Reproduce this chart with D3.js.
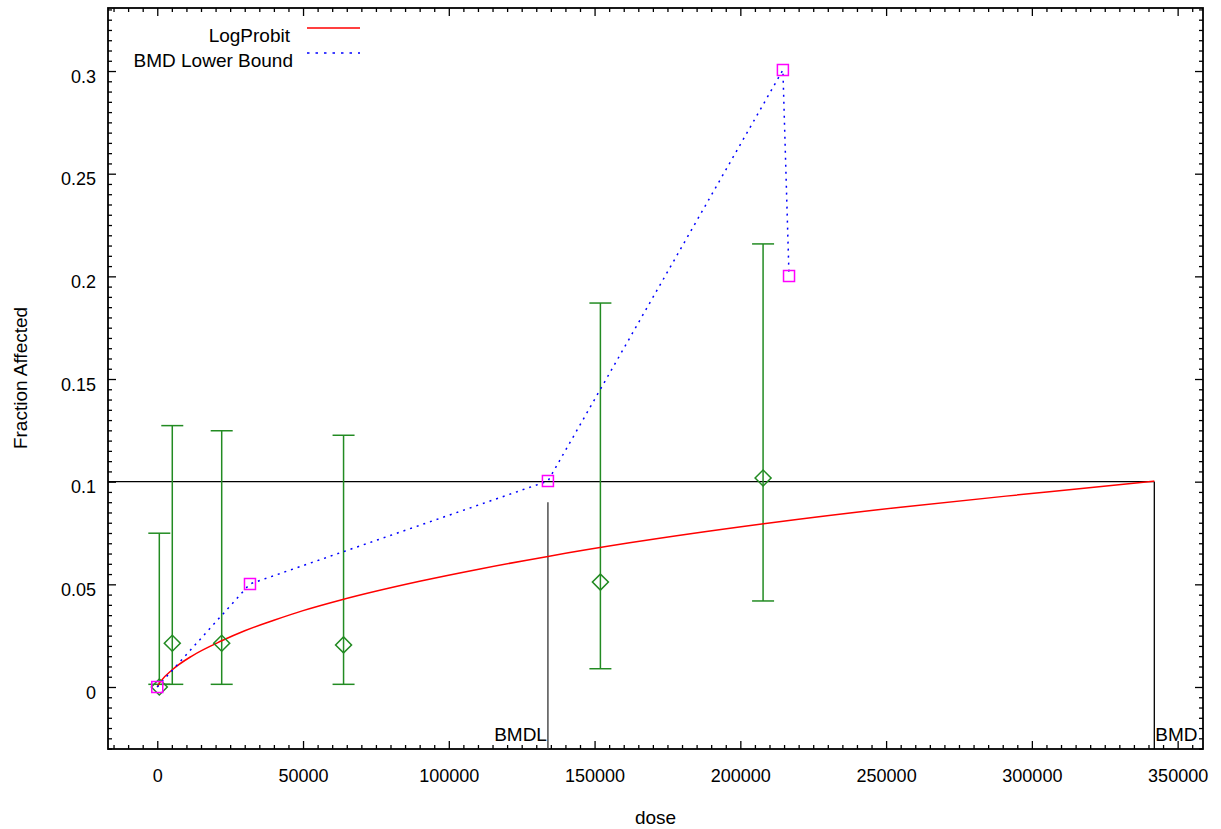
<!DOCTYPE html>
<html>
<head>
<meta charset="utf-8">
<script src="https://cdn.jsdelivr.net/npm/d3@7"></script>
<style>
  body { margin: 0; background: #fff; }
  text { font-family: "Liberation Sans", Arial, sans-serif; fill: #000; }
</style>
</head>
<body>
<div id="chart"></div>
<script>
// observed data (green diamonds + error bars)
const obsDose  = [700, 5150, 22100, 63900, 152000, 207800]
const obsFrac  = [0.0, 0.0213, 0.0213, 0.0205, 0.0511, 0.1018]
const obsLow   = [0.0013, 0.0013, 0.0013, 0.0013, 0.0089, 0.0419]
const obsHigh  = [0.0749, 0.1273, 0.1248, 0.1226, 0.187, 0.2158]

// LogProbit fitted curve
const fitDose = [0, 500, 1500, 5150, 12000, 22100, 30000, 40000, 50000, 63000, 90000, 110700, 134000, 162000, 208000, 255000, 306000, 342000]
const fitFrac = [0, 0.0013, 0.0033, 0.0084, 0.0152, 0.0225, 0.0274, 0.0325, 0.0372, 0.0424, 0.0515, 0.0575, 0.0636, 0.0702, 0.0795, 0.0876, 0.0951, 0.1003]

// BMD lower bound points (magenta squares, dotted blue)
const lbDose = [0, 31800, 134000, 214600, 216700]
const lbFrac = [0, 0.0502, 0.1003, 0.3005, 0.2002]

const BMR = 0.1
const BMDL = 134000
const BMDL_TOP = 0.09
const BMD = 342000

const xMajor = [0, 50000, 100000, 150000, 200000, 250000, 300000, 350000]
const xMajorLabels = ["0", "50000", "100000", "150000", "200000", "250000", "300000", "350000"]
const yMajor = [0, 0.05, 0.1, 0.15, 0.2, 0.25, 0.3]
const yMajorLabels = ["0", "0.05", "0.1", "0.15", "0.2", "0.25", "0.3"]

const legendNames = ["LogProbit", "BMD Lower Bound"]

const MARGIN = { TOP: 8, BOTTOM: 80, LEFT: 108, RIGHT: 18 }
const WIDTH = 1221 - MARGIN.LEFT - MARGIN.RIGHT
const HEIGHT = 829 - MARGIN.TOP - MARGIN.BOTTOM

const svg = d3.select("#chart")
  .append("svg")
    .attr("width", 1221)
    .attr("height", 829)

const g = svg.append("g")
  .attr("transform", `translate(${MARGIN.LEFT}, ${MARGIN.TOP})`)

const x = d3.scaleLinear().domain([-16900, 358700]).range([0, WIDTH])
const y = d3.scaleLinear().domain([-0.0302, 0.3307]).range([HEIGHT, 0])

// minor tick values
const xMinor = d3.range(-15000, 358000, 5000).filter(v => v % 50000 !== 0)
const yMinor = d3.range(-30, 331, 5).map(v => v / 1000).filter(v => Math.abs(v * 20 - Math.round(v * 20)) > 1e-6)

function tickAxis(axisFn, scale, values, size, transform, labels) {
  const ax = axisFn(scale).tickValues(values).tickSizeInner(-size).tickSizeOuter(0)
    .tickFormat(labels ? ((d, i) => labels[i]) : "")
  const grp = g.append("g").attr("transform", transform).call(ax)
  grp.select(".domain").remove()
  grp.selectAll(".tick line").attr("stroke", "#000").attr("stroke-width", 1.3)
  return grp
}

// bottom
const xb = tickAxis(d3.axisBottom, x, xMajor, 8, `translate(0, ${HEIGHT})`, xMajorLabels)
xb.selectAll("text").attr("font-size", 18).attr("y", 20).attr("dy", "0.71em")
  .style("font-family", '"Liberation Sans", Arial, sans-serif')
tickAxis(d3.axisBottom, x, xMinor, 4, `translate(0, ${HEIGHT})`)
// top
tickAxis(d3.axisTop, x, xMajor, 8, "translate(0, 0)", null)
tickAxis(d3.axisTop, x, xMinor, 4, "translate(0, 0)")
// left
const yl = tickAxis(d3.axisLeft, y, yMajor, 8, "translate(0, 0)", yMajorLabels)
yl.selectAll("text").attr("font-size", 18).attr("x", -12).attr("dy", "0.62em")
  .style("font-family", '"Liberation Sans", Arial, sans-serif')
tickAxis(d3.axisLeft, y, yMinor, 4, "translate(0, 0)")
// right
tickAxis(d3.axisRight, y, yMajor, 8, `translate(${WIDTH}, 0)`, null)
tickAxis(d3.axisRight, y, yMinor, 4, `translate(${WIDTH}, 0)`)

// frame
g.append("rect")
  .attr("width", WIDTH).attr("height", HEIGHT)
  .attr("fill", "none").attr("stroke", "#000").attr("stroke-width", 1.8)

// axis titles
g.append("text")
  .attr("x", WIDTH / 2).attr("y", HEIGHT + 75)
  .attr("font-size", 19).attr("text-anchor", "middle")
  .text("dose")

g.append("text")
  .attr("transform", `translate(${20 - MARGIN.LEFT}, ${378 - MARGIN.TOP}) rotate(-90)`)
  .attr("font-size", 19).attr("text-anchor", "middle").attr("dy", "0.35em")
  .text("Fraction Affected")

// BMR / BMD / BMDL lines
g.append("line")
  .attr("x1", 0).attr("x2", x(BMD))
  .attr("y1", y(BMR)).attr("y2", y(BMR))
  .attr("stroke", "#000").attr("stroke-width", 1.3)
g.append("line")
  .attr("x1", x(BMD)).attr("x2", x(BMD))
  .attr("y1", y(BMR)).attr("y2", HEIGHT)
  .attr("stroke", "#000").attr("stroke-width", 1.3)
g.append("line")
  .attr("x1", x(BMDL)).attr("x2", x(BMDL))
  .attr("y1", y(BMDL_TOP)).attr("y2", HEIGHT)
  .attr("stroke", "#333").attr("stroke-width", 1.3)

g.append("text")
  .attr("x", x(BMDL) - 1).attr("y", HEIGHT - 8)
  .attr("font-size", 19).attr("text-anchor", "end")
  .text("BMDL")
g.append("text")
  .attr("x", x(BMD) + 1).attr("y", HEIGHT - 8)
  .attr("font-size", 19)
  .text("BMD")

// error bars
const green = "#228b22"
const obs = obsDose.map((d, i) => ({ d, v: obsFrac[i], lo: obsLow[i], hi: obsHigh[i] }))
const bars = g.append("g").attr("stroke", green).attr("stroke-width", 1.5).attr("fill", "none")
obs.forEach(o => {
  bars.append("line").attr("x1", x(o.d)).attr("x2", x(o.d)).attr("y1", y(o.lo)).attr("y2", y(o.hi))
  bars.append("line").attr("x1", x(o.d) - 11).attr("x2", x(o.d) + 11).attr("y1", y(o.lo)).attr("y2", y(o.lo))
  bars.append("line").attr("x1", x(o.d) - 11).attr("x2", x(o.d) + 11).attr("y1", y(o.hi)).attr("y2", y(o.hi))
})

// fitted curve
const fit = fitDose.map((d, i) => ({ d, v: fitFrac[i] }))
g.append("path")
  .datum(fit)
  .attr("fill", "none").attr("stroke", "#ff0000").attr("stroke-width", 1.5)
  .attr("d", d3.line().x(p => x(p.d)).y(p => y(p.v)).curve(d3.curveMonotoneX))

// lower bound dotted line
const lb = lbDose.map((d, i) => ({ d, v: lbFrac[i] }))
g.append("path")
  .datum(lb)
  .attr("fill", "none").attr("stroke", "#0000ff").attr("stroke-width", 1.5)
  .attr("stroke-dasharray", "2,5")
  .attr("d", d3.line().x(p => x(p.d)).y(p => y(p.v)))

// diamonds
g.selectAll(".diamond")
  .data(obs)
  .enter().append("path")
    .attr("class", "diamond")
    .attr("d", d3.symbol().type(d3.symbolSquare).size(128))
    .attr("transform", o => `translate(${x(o.d)}, ${y(o.v)}) rotate(45)`)
    .attr("fill", "none").attr("stroke", green).attr("stroke-width", 1.5)

// magenta squares
g.selectAll(".sq")
  .data(lb)
  .enter().append("path")
    .attr("class", "sq")
    .attr("d", d3.symbol().type(d3.symbolSquare).size(121))
    .attr("transform", p => `translate(${x(p.d)}, ${y(p.v)})`)
    .attr("fill", "none").attr("stroke", "#ff00ff").attr("stroke-width", 1.5)

// legend
const leg = svg.append("g")
const legY = [28, 53]
leg.append("text").attr("x", 290).attr("y", legY[0] + 7).attr("dy", "0.35em")
  .attr("font-size", 19).attr("text-anchor", "end").text(legendNames[0])
leg.append("line").attr("x1", 307).attr("x2", 360).attr("y1", legY[0]).attr("y2", legY[0])
  .attr("stroke", "#ff0000").attr("stroke-width", 1.5)
leg.append("text").attr("x", 293).attr("y", legY[1] + 7).attr("dy", "0.35em")
  .attr("font-size", 19).attr("text-anchor", "end").text(legendNames[1])
leg.append("line").attr("x1", 307).attr("x2", 360).attr("y1", legY[1]).attr("y2", legY[1])
  .attr("stroke", "#0000ff").attr("stroke-width", 1.5).attr("stroke-dasharray", "2.5,6")
</script>
</body>
</html>
